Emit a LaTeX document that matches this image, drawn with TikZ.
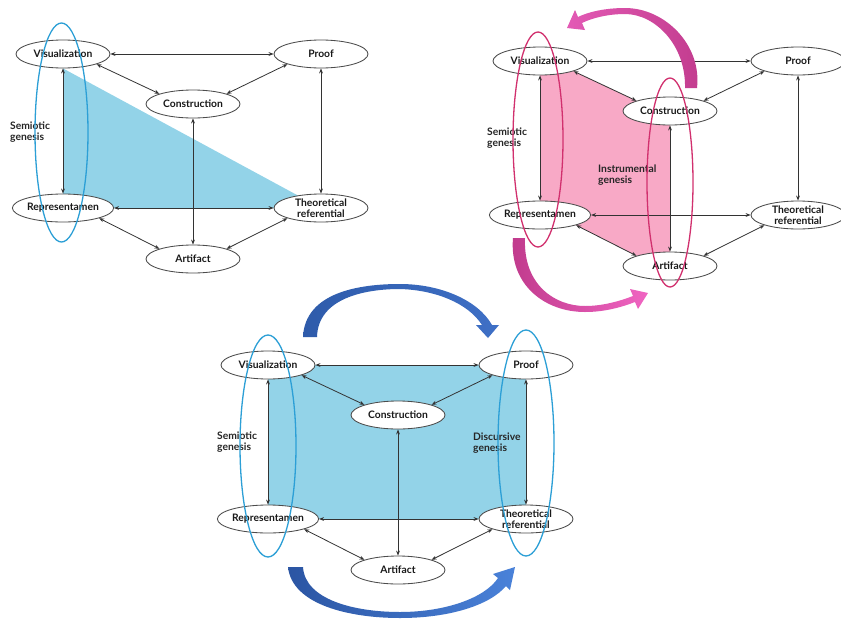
\documentclass[tikz,border=0pt]{standalone}
\usepackage{fontspec}
\newfontfamily\gfont{Lato}
\usetikzlibrary{arrows.meta,calc,shapes.geometric}
\pgfdeclarelayer{background}
\pgfsetlayers{background,main}
\definecolor{bluefill}{HTML}{93D3E8}
\definecolor{pinkfill}{HTML}{F8A9C6}
\definecolor{blueloop}{HTML}{2C9FD6}
\definecolor{pinkloop}{HTML}{D1306E}
\definecolor{btopL}{HTML}{2E5BAA}
\definecolor{btopM}{HTML}{8FA9DA}
\definecolor{btopR}{HTML}{3F70C6}
\definecolor{bbotL}{HTML}{2B55A3}
\definecolor{bbotM}{HTML}{9DB5E3}
\definecolor{bbotR}{HTML}{4A82D9}
\definecolor{ptopL}{HTML}{E35AB5}
\definecolor{ptopM}{HTML}{F2B3DA}
\definecolor{ptopR}{HTML}{C23C8E}
\definecolor{pbotL}{HTML}{C03A8C}
\definecolor{pbotM}{HTML}{F4BFE0}
\definecolor{pbotR}{HTML}{F065C2}
\newcommand{\drawgdiagram}[3]{%
  \begin{scope}[shift={(#2,#3)}]
    \node[gnode] (#1vis) at (0,0) {Visualization};
    \node[gnode] (#1proof) at (258,0) {Proof};
    \node[gnode] (#1con) at (130,50) {Construction};
    \node[gnode] (#1rep) at (0,154) {Representamen};
    \node[gnode] (#1tr) at (258,154) {Theoretical\\referential};
    \node[gnode] (#1art) at (130,205) {Artifact};
    \draw[conn] (#1vis) -- (#1proof);
    \draw[conn] (#1rep) -- (#1tr);
    \draw[conn] (#1vis) -- (#1rep);
    \draw[conn] (#1proof) -- (#1tr);
    \draw[conn] (#1con) -- (#1art);
    \draw[conn] (#1vis.south east) -- (#1con.north west);
    \draw[conn] (#1proof.south west) -- (#1con.north east);
    \draw[conn] (#1rep.south east) -- (#1art.north west);
    \draw[conn] (#1tr.south west) -- (#1art.north east);
  \end{scope}}
\begin{document}
\begin{tikzpicture}[x=1pt,y=-1pt,
  gnode/.style={ellipse, draw=black!70, line width=0.85pt, fill=white,
    minimum width=94pt, minimum height=28pt, inner sep=0pt, align=center,
    text=black!90, font=\gfont\bfseries\fontsize{10.3}{11.5}\selectfont},
  conn/.style={<->, >={Stealth[length=5pt,width=3.8pt]}, line width=0.8pt, draw=black!80},
  glabel/.style={anchor=west, align=left, inner sep=0pt, text=black!85,
    font=\gfont\bfseries\fontsize{10.3}{11.5}\selectfont},
  bloop/.style={draw=blueloop, line width=1.3pt},
  ploop/.style={draw=pinkloop, line width=1.3pt}]
\useasboundingbox (0,0) rectangle (841,619);

% three diagrams
\drawgdiagram{a}{63}{54}
\drawgdiagram{b}{540}{61}
\drawgdiagram{c}{268}{365}

% fills behind
\begin{pgfonlayer}{background}
  \fill[white] (0,0) rectangle (841,619);
  \fill[bluefill] (avis.south) -- (atr.center) -- (arep.center) -- cycle;
  \fill[pinkfill] (bvis.center) -- (bvis.south east) -- (bcon.north west) -- (bcon.center)
     -- (bart.center) -- (bart.north west) -- (brep.south east) -- (brep.center) -- cycle;
  \fill[bluefill] (cvis.center) -- (cproof.center) -- (ctr.center) -- (crep.center) -- cycle;
\end{pgfonlayer}

% labels
\node[glabel] (alab) at (10,132) {Semiotic\\genesis};
\node[glabel] (blab) at (487,138) {Semiotic\\genesis};
\node[glabel] (binst) at (598,175) {Instrumental\\genesis};
\node[glabel] (clab) at (217,442) {Semiotic\\genesis};
\node[glabel] (cdisc) at (473,443) {Discursive\\genesis};

% genesis loops
\draw[bloop] ($(avis.center)+(-1.5,78.5)$) ellipse [x radius=26.5pt, y radius=109.5pt];
\draw[ploop] ($(bvis.center)+(-2,78.5)$) ellipse [x radius=25pt, y radius=107.5pt];
\draw[ploop] ($(bcon.center)+(0,71.5)$) ellipse [x radius=23pt, y radius=104.5pt];
\draw[bloop] ($(cvis.center)+(0,81)$) ellipse [x radius=28pt, y radius=111pt];
\draw[bloop] ($(cproof.center)+(0,78)$) ellipse [x radius=28pt, y radius=113pt];

% curved arrows
\shade[left color=btopL, middle color=btopM, right color=btopR]
  (303,337) .. controls (305,292) and (360,284) .. (400,284)
  .. controls (440,284) and (478,300) .. (492,325) -- (499,325) -- (488,338) -- (476,325) -- (482,325)
  .. controls (468,303) and (435,290) .. (400,289)
  .. controls (365,289) and (318,298) .. (317,337) -- cycle;
\shade[left color=bbotL, middle color=bbotM, right color=bbotR]
  (288,567) .. controls (292,605) and (350,618) .. (400,618)
  .. controls (450,618) and (490,605) .. (506,586) -- (510,590) -- (515,567) -- (493,574) -- (498,578)
  .. controls (485,598) and (445,612) .. (400,612)
  .. controls (355,612) and (305,600) .. (303,567) -- cycle;
\shade[left color=ptopL, middle color=ptopM, right color=ptopR]
  (697,88) .. controls (702,45) and (665,8) .. (625,8)
  .. controls (605,8) and (588,12) .. (578,17) -- (575,10) -- (567,28) -- (585,30) -- (582,23)
  .. controls (592,18) and (608,14) .. (625,14)
  .. controls (655,14) and (686,45) .. (685,88) -- cycle;
\shade[left color=pbotL, middle color=pbotM, right color=pbotR]
  (513,238) .. controls (509,285) and (545,312) .. (585,312)
  .. controls (605,312) and (622,307) .. (635,302) -- (638,309) -- (648,293) -- (630,289) -- (633,296)
  .. controls (620,301) and (603,306) .. (585,306)
  .. controls (555,306) and (523,285) .. (525,238) -- cycle;
\end{tikzpicture}
\end{document}
